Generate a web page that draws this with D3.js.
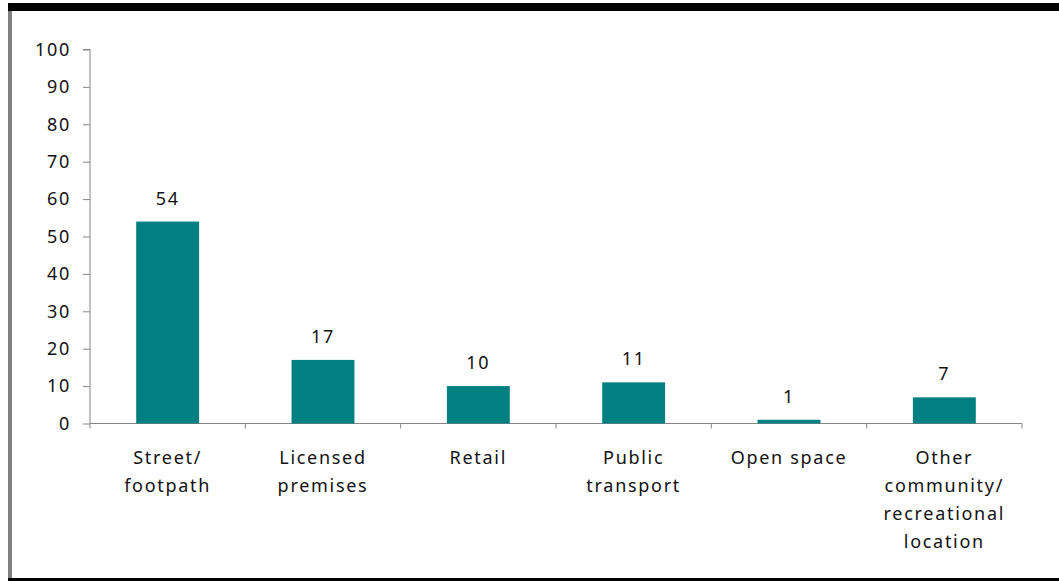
<!DOCTYPE html>
<html><head><meta charset="utf-8">
<script src="https://cdn.jsdelivr.net/npm/d3@7"></script>
<style>body{margin:0;background:#fff}svg{display:block}text{font-family:"Noto Sans",sans-serif;fill:#111}</style>
</head><body>
<script>
const categories = [["Street/","footpath"],["Licensed","premises"],["Retail"],["Public","transport"],["Open space"],["Other","community/","recreational","location"]];
const values = [54,17,10,11,1,7];
const yTicks = [0,10,20,30,40,50,60,70,80,90,100];

const W=1059,H=581;
const svg=d3.select("body").append("svg").attr("width",W).attr("height",H);
// frame
svg.append("rect").attr("x",8).attr("y",3).attr("width",W-8).attr("height",8).attr("fill","#000");
svg.append("rect").attr("x",8).attr("y",11).attr("width",4).attr("height",567).attr("fill","#808080");
svg.append("rect").attr("x",8).attr("y",578).attr("width",W-8).attr("height",3).attr("fill","#000");

const x0=90,x1=1022;
const ids=categories.map((d,i)=>i);
const x=d3.scaleBand().domain(ids).range([x0,x1]).paddingInner(0.595).paddingOuter(0.2975);
const y=d3.scaleLinear().domain([0,100]).range([423.5,49.5]);

const fs="18px", ls="1.7px";
// y axis
const ya=svg.append("g").attr("transform",`translate(${x0},0)`).call(d3.axisLeft(y).tickValues(yTicks).tickSize(7).tickPadding(12));
ya.selectAll("path,line").attr("stroke","#868686");
ya.select(".domain").attr("d",`M0,${y(100)}H-7M0,${y(100)}V${y(0)}`);
ya.selectAll("text").style("font-size",fs).style("letter-spacing",ls).attr("fill","#111").style("font-family","'Noto Sans',sans-serif");

// x axis line & ticks
const step=(x1-x0)/categories.length;
svg.append("line").attr("x1",x0).attr("x2",x1).attr("y1",y(0)).attr("y2",y(0)).attr("stroke","#868686");
d3.range(categories.length+1).forEach(i=>{
  svg.append("line").attr("x1",x0+i*step).attr("x2",x0+i*step).attr("y1",y(0)).attr("y2",y(0)+5).attr("stroke","#868686");
});

// bars
svg.selectAll("rect.bar").data(values).enter().append("rect").attr("class","bar")
  .attr("x",(d,i)=>x(i)).attr("width",x.bandwidth())
  .attr("y",d=>y(d)).attr("height",d=>y(0)-y(d)).attr("fill","#008080");
// value labels
svg.selectAll("text.val").data(values).enter().append("text").attr("class","val")
  .attr("x",(d,i)=>x(i)+x.bandwidth()/2).attr("y",d=>y(d)-17)
  .attr("text-anchor","middle").style("font-size",fs).style("letter-spacing",ls).text(d=>d);
// category labels
categories.forEach((lines,i)=>{
  const t=svg.append("text").attr("x",x(i)+x.bandwidth()/2).attr("y",464).attr("text-anchor","middle")
    .style("font-size",fs).style("letter-spacing",ls);
  lines.forEach((l,j)=>t.append("tspan").attr("x",x(i)+x.bandwidth()/2).attr("y",464+j*28).text(l));
});
</script>
</body></html>
